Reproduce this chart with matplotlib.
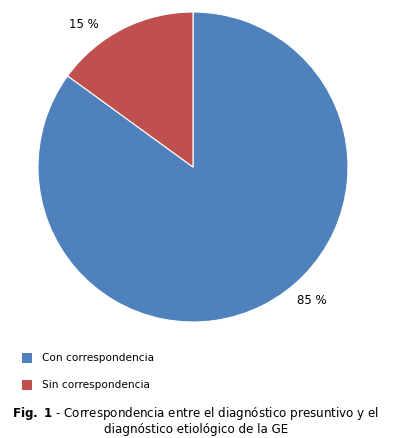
import matplotlib
matplotlib.use("Agg")
import matplotlib.pyplot as plt
from matplotlib.patches import Rectangle

categories = ["Con correspondencia", "Sin correspondencia"]
values = [85, 15]
pct_labels = ["85 %", "15 %"]
colors = ["#4F81BD", "#C0504D"]

W, H = 393, 438
fig = plt.figure(figsize=(W / 100, H / 100), dpi=100)
plt.rcParams['font.family'] = ['DejaVu Sans']

cx, cy, r = 193, 167, 155
ax = fig.add_axes([(cx - r) / W, 1 - (cy + r) / H, 2 * r / W, 2 * r / H])
wedges, _ = ax.pie(values, colors=colors, startangle=90, counterclock=False,
                   wedgeprops=dict(edgecolor="white", linewidth=0.8), radius=1)
ax.set_xlim(-1, 1)
ax.set_ylim(-1, 1)
ax.set_aspect("equal")
ax.axis("off")

def px(x, y):
    return x / W, 1 - y / H

# percentage labels
fig.text(*px(312, 300), pct_labels[0], ha="center", va="center", fontsize=8.5)
fig.text(*px(84, 24), pct_labels[1], ha="center", va="center", fontsize=8.5)

# legend
for i, (cat, col) in enumerate(zip(categories, colors)):
    yc = 358 + i * 27
    x0, y0 = px(22, yc + 5)
    fig.patches.append(Rectangle((x0, y0), 10 / W, 10 / H, transform=fig.transFigure,
                                 facecolor=col, edgecolor="none"))
    fig.text(*px(42, yc), cat, ha="left", va="center", fontsize=7.6)

# caption
fig.text(*px(196, 413), r"$\bf{Fig.\ 1}$ - Correspondencia entre el diagnóstico presuntivo y el",
         ha="center", va="center", fontsize=8.6)
fig.text(*px(196, 430), "diagnóstico etiológico de la GE", ha="center", va="center", fontsize=8.6)

fig.savefig("out.png", dpi=100)
